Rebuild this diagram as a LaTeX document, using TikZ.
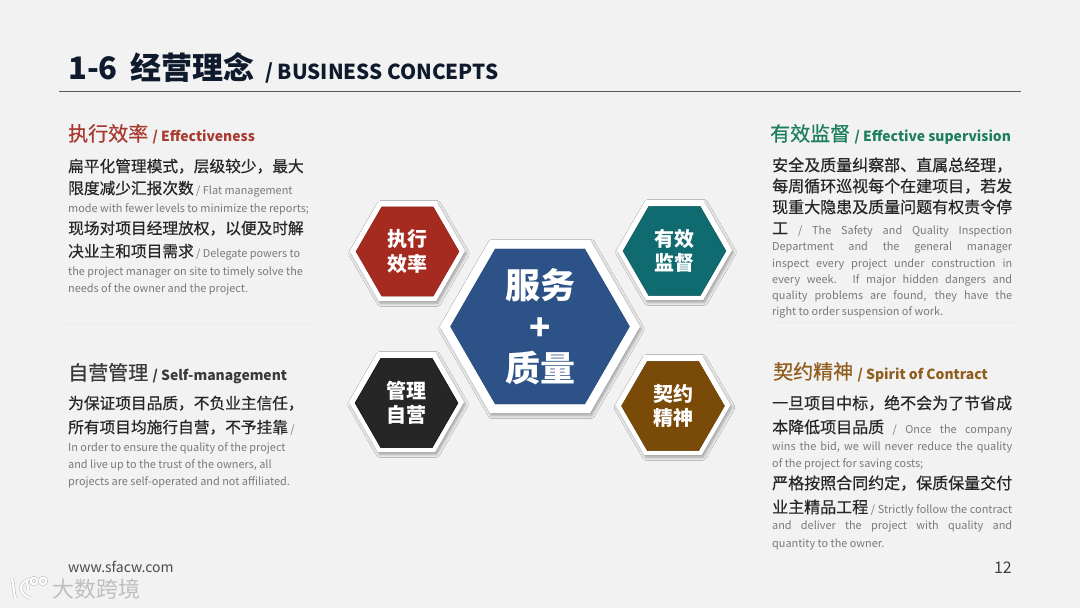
\documentclass[tikz,border=0pt]{standalone}
\usepackage{fontspec}
\setmainfont{Noto Sans CJK SC}
\newfontfamily\zhmed[FakeBold=0.5]{Noto Sans CJK SC}
\usetikzlibrary{shapes.geometric, shadows.blur}

\definecolor{pagebg}{HTML}{F2F2F2}
\definecolor{titledark}{HTML}{0F1B2D}
\definecolor{zhdark}{HTML}{262626}
\definecolor{engray}{HTML}{7A7A7A}
\definecolor{hexblue}{HTML}{2C5288}
\definecolor{hexred}{HTML}{A52A20}
\definecolor{hexteal}{HTML}{0F6B70}
\definecolor{hexdark}{HTML}{262626}
\definecolor{hexbrown}{HTML}{7A4B08}
\definecolor{headred}{HTML}{A93A30}
\definecolor{headgreen}{HTML}{1E7F5C}
\definecolor{headdark}{HTML}{3A3A3A}
\definecolor{headbrown}{HTML}{8F5E1E}

\newcommand{\zh}[1]{{\fontsize{15.7}{18}\selectfont\zhmed\color{zhdark}#1}}
\newcommand{\zhr}[1]{{\fontsize{16}{18}\selectfont\zhmed\color{zhdark}#1}}
\newcommand{\heademph}[1]{{\fontsize{13.9}{18}\selectfont\rmfamily\bfseries #1}}
\newcommand{\fullfit}[1]{\makebox[240pt][s]{#1}}

\begin{document}
\begin{tikzpicture}[x=1pt, y=-1pt,
        hexouter/.style={regular polygon, regular polygon sides=6, fill=white, inner sep=0pt,
            blur shadow={shadow xshift=1.5pt, shadow yshift=-2.5pt, shadow blur radius=3pt, shadow blur steps=6, shadow opacity=35}},
        hexinner/.style={regular polygon, regular polygon sides=6, inner sep=0pt, text=white, align=center},
        smallhex/.style={font=\fontsize{20}{24.5}\selectfont\bfseries},
        heading/.style={anchor=base west, inner sep=0pt, font=\fontsize{20}{24}\selectfont\zhmed},
        bodyline/.style={anchor=base west, inner sep=0pt, text=engray, font=\fontsize{10.9}{14}\selectfont},
        logostroke/.style={draw=gray!55, line width=0.5pt, double=white, double distance=2.2pt}
    ]

    % Page
    \fill[pagebg] (0,0) rectangle (1080,608);
    \useasboundingbox (0,0) rectangle (1080,608);

    % Title
    \node[anchor=base west, inner sep=0pt, text=titledark, font=\fontsize{31}{36}\selectfont\bfseries] (title) at (68,79) {1-6\hspace{6pt} 经营理念};
    \node[anchor=base west, inner sep=0pt, text=titledark, font=\fontsize{20.6}{26}\selectfont\bfseries] (titleen) at (265,79) {/ BUSINESS CONCEPTS};
    \coordinate (ruleL) at (59,91.5);
    \coordinate (ruleR) at (1021,91.5);
    \draw[color=black!65, line width=0.8pt] (ruleL) -- (ruleR);

    % Separators
    \draw[color=black!8, line width=0.8pt] (60,323) -- (310,323);
    \draw[color=black!8, line width=0.8pt] (775,322.5) -- (1020,322.5);

    % Hexagons
    \node[hexouter, minimum size=115pt] (effout) at (407.5,251) {};
    \node[hexinner, smallhex, minimum size=103pt, fill=hexred, draw=hexred!80!black] (eff) at (407.5,251.5) {执行\\效率};
    \node[hexouter, minimum size=115pt] (supout) at (674.5,250) {};
    \node[hexinner, smallhex, minimum size=103pt, fill=hexteal, draw=hexteal!80!black] (sup) at (674.5,251) {有效\\监督};
    \node[hexouter, minimum size=115pt] (selfout) at (406.5,402) {};
    \node[hexinner, smallhex, minimum size=103pt, fill=hexdark, draw=black] (self) at (406.5,403) {管理\\自营};
    \node[hexouter, minimum size=115pt] (conout) at (673,405) {};
    \node[hexinner, smallhex, minimum size=103pt, fill=hexbrown, draw=hexbrown!80!black] (con) at (673,406) {契约\\精神};
    \node[hexouter, minimum size=200pt] (coreout) at (540,326.5) {};
    \node[hexinner, minimum size=179pt, fill=hexblue, draw=hexblue!85!black] (core) at (540,326.5) {};
    \node[text=white, align=center, inner sep=0pt, font=\fontsize{35}{41.5}\selectfont\bfseries] (coretext) at (540,327) {服务\\+\\质量};

    % Effectiveness
    \node[heading, text=headred] (effh) at (68,141) {执行效率 \heademph{/ Effectiveness}};
    \node[bodyline] (eff1) at (68,172) {\zh{扁平化管理模式，层级较少，最大}};
    \node[bodyline] (eff2) at (68,194) {\zh{限度减少汇报次数} / Flat management};
    \node[bodyline] (eff3) at (68,212) {mode with fewer levels to minimize the reports;};
    \node[bodyline] (eff4) at (68,234) {\zh{现场对项目经理放权，以便及时解}};
    \node[bodyline] (eff5) at (68,257) {\zh{决业主和项目需求} / Delegate powers to};
    \node[bodyline] (eff6) at (68,275) {the project manager on site to timely solve the};
    \node[bodyline] (eff7) at (68,292) {needs of the owner and the project.};

    % Self-management
    \node[heading, text=headdark] (selfh) at (68,380) {自营管理 \heademph{/ Self-management}};
    \node[bodyline] (self1) at (68,409) {\zh{为保证项目品质，不负业主信任，}};
    \node[bodyline] (self2) at (68,433) {\zh{所有项目均施行自营，不予挂靠} /};
    \node[bodyline] (self3) at (68,451) {In order to ensure the quality of the project};
    \node[bodyline] (self4) at (68,468) {and live up to the trust of the owners, all};
    \node[bodyline] (self5) at (68,485) {projects are self-operated and not affiliated.};

    % Effective supervision
    \node[heading, text=headgreen] (suph) at (770,141) {有效监督 \heademph{/ Effective supervision}};
    \node[bodyline] (sup1) at (772,171) {\zhr{安全及质量纠察部、直属总经理，}};
    \node[bodyline] (sup2) at (772,192) {\zhr{每周循环巡视每个在建项目，若发}};
    \node[bodyline] (sup3) at (772,213) {\zhr{现重大隐患及质量问题有权责令停}};
    \node[bodyline] (sup4) at (772,234) {\fullfit{\zhr{工} / The Safety and Quality Inspection}};
    \node[bodyline] (sup5) at (772,250) {\fullfit{Department and the general manager}};
    \node[bodyline] (sup6) at (772,267) {\fullfit{inspect every project under construction in}};
    \node[bodyline] (sup7) at (772,283) {\fullfit{every week. If major hidden dangers and}};
    \node[bodyline] (sup8) at (772,299) {\fullfit{quality problems are found, they have the}};
    \node[bodyline] (sup9) at (772,315) {right to order suspension of work.};

    % Spirit of Contract
    \node[heading, text=headbrown] (conh) at (773,379) {契约精神 \heademph{/ Spirit of Contract}};
    \node[bodyline] (con1) at (772,409) {\zhr{一旦项目中标，绝不会为了节省成}};
    \node[bodyline] (con2) at (772,433) {\fullfit{\zhr{本降低项目品质} / Once the company}};
    \node[bodyline] (con3) at (772,450) {\fullfit{wins the bid, we will never reduce the quality}};
    \node[bodyline] (con4) at (772,467) {of the project for saving costs;};
    \node[bodyline] (con5) at (772,489) {\zhr{严格按照合同约定，保质保量交付}};
    \node[bodyline] (con6) at (772,513) {\fullfit{\zhr{业主精品工程} / Strictly follow the contract}};
    \node[bodyline] (con7) at (772,529) {\fullfit{and deliver the project with quality and}};
    \node[bodyline] (con8) at (772,547) {quantity to the owner.};

    % Footer
    \node[anchor=base west, inner sep=0pt, text=black!70, font=\fontsize{14}{17}\selectfont] (site) at (68,572) {www.sfacw.com};
    \node[anchor=base east, inner sep=0pt, text=black!75, font=\fontsize{16}{19}\selectfont] (page) at (1012,573) {12};

    % Watermark
    \draw[logostroke] (12,578) -- (15,598);
    \draw[logostroke] (30,579) .. controls (20,582) and (16,592) .. (30,598);
    \draw[logostroke] (27,581) -- (28,590);
    \draw[logostroke] (34,581) circle (3.3);
    \draw[logostroke] (43,581) circle (3.3);
    \node[anchor=base west, inner sep=0pt, text=black!25, font=\fontsize{22}{26}\selectfont] (mark) at (52,597) {大数跨境};
\end{tikzpicture}
\end{document}
